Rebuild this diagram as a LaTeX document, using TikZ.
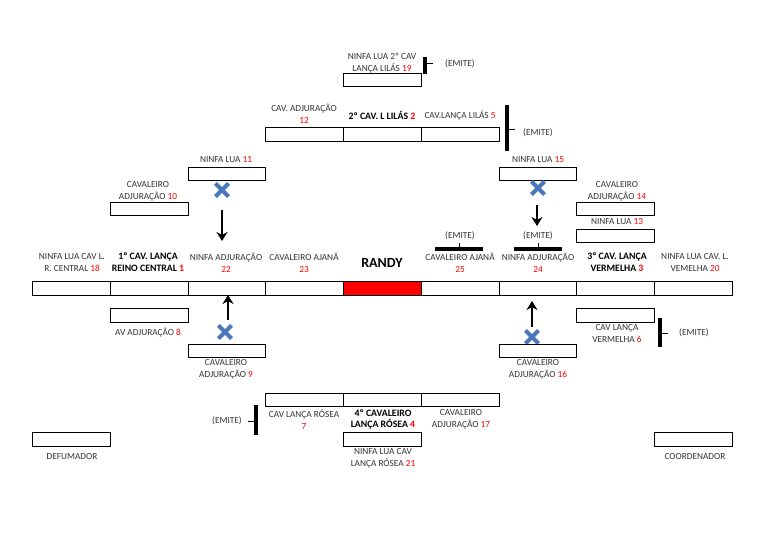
\documentclass[tikz,border=0pt]{standalone}
\usepackage{fontspec}
\setmainfont{Carlito}
\usepackage{tikz}
\usetikzlibrary{arrows.meta,shapes.misc}
\usepackage{xcolor}
\definecolor{Ink}{HTML}{333333}
\definecolor{NumRed}{HTML}{FF0000}
\definecolor{CrossBlue}{HTML}{4A78B8}
\newcommand{\rednum}[1]{\textcolor{NumRed}{#1}}

\begin{document}
\begin{tikzpicture}[x=1pt,y=-1pt,
  seat/.style={draw=black,line width=0.9pt,minimum width=77.75pt,minimum height=13.5pt,inner sep=0pt},
  lbl/.style={font=\fontsize{9.3}{11.8}\selectfont,text=Ink,align=center,inner sep=0pt},
  lead/.style={font=\bfseries\fontsize{9.8}{11.8}\selectfont,text=black,align=center,inner sep=0pt},
  cross/.style={cross out,draw=CrossBlue,line width=4.2pt,minimum size=9pt,inner sep=0pt},
  arrow/.style={-{Stealth[length=9pt,width=11pt]},line width=2.4pt,draw=black},
  bar/.style={line width=3.5pt,draw=black},
  tick/.style={line width=1pt,draw=black}
]
  \useasboundingbox (0,0) rectangle (768,543);

  % top: ninfa lua 19
  \node[lbl] (l19) at (382,63.5) {NINFA LUA 2º CAV\\LANÇA LILÁS \rednum{19}};
  \node[seat] (s19) at (382.5,80) {};
  \draw[bar] (425,57) -- (425,74);
  \draw[tick] (425,64) -- (433,64);
  \node[lbl] (e19) at (460,64) {(EMITE)};

  % second row: lilas
  \node[lbl] (l12) at (304,114) {CAV. ADJURAÇÃO\\\rednum{12}};
  \node[lead] (l2) at (382,115) {2º CAV. L LILÁS \rednum{2}};
  \node[lbl] (l5) at (460,115) {CAV.LANÇA LILÁS \rednum{5}};
  \node[seat] (s12) at (304.75,134.5) {};
  \node[seat] (s2) at (382.5,134.5) {};
  \node[seat] (s5) at (460.25,134.5) {};
  \draw[bar] (507,105) -- (507,151);
  \draw[tick] (507,129) -- (515,129);
  \node[lbl] (e5) at (538,133) {(EMITE)};

  % upper left
  \node[lbl] (l11) at (226,160) {NINFA LUA \rednum{11}};
  \node[seat] (s11) at (227,174) {};
  \node[cross] (x11) at (222,190) {};
  \node[lbl] (l10) at (148,191.5) {CAVALEIRO\\ADJURAÇÃO \rednum{10}};
  \node[seat] (s10) at (149.25,209) {};
  \coordinate (a11t) at (222,210);
  \coordinate (a11h) at (222,241);
  \draw[arrow] (a11t) -- (a11h);

  % upper right
  \node[lbl] (l15) at (538,160) {NINFA LUA \rednum{15}};
  \node[seat] (s15) at (538,174) {};
  \node[cross] (x15) at (538,188) {};
  \node[lbl] (l14) at (617,191.5) {CAVALEIRO\\ADJURAÇÃO \rednum{14}};
  \node[seat] (s14) at (615.75,209) {};
  \node[lbl] (l13) at (617,222) {NINFA LUA \rednum{13}};
  \node[seat] (s13) at (615.75,236) {};
  \coordinate (a15t) at (537,205);
  \coordinate (a15h) at (537,226);
  \draw[arrow] (a15t) -- (a15h);

  % emite over 25 and 24
  \node[lbl] (e25) at (460,236) {(EMITE)};
  \draw[bar] (435,249) -- (483,249);
  \draw[tick] (459,249) -- (459,243);
  \node[lbl] (e24) at (538,236) {(EMITE)};
  \draw[bar] (514,249) -- (562,249);
  \draw[tick] (538,249) -- (538,243);

  % main row labels
  \node[lbl] (l18) at (72,262.5) {NINFA LUA CAV L.\\R. CENTRAL \rednum{18}};
  \node[lead] (l1) at (148,262.5) {1º CAV. LANÇA\\REINO CENTRAL \rednum{1}};
  \node[lbl] (l22) at (226,262.5) {NINFA ADJURAÇÃO\\\rednum{22}};
  \node[lbl] (l23) at (304,262.5) {CAVALEIRO AJANÃ\\\rednum{23}};
  \node[lead,font=\bfseries\fontsize{14}{16}\selectfont] (lrandy) at (382,263) {RANDY};
  \node[lbl] (l25) at (460,262.5) {CAVALEIRO AJANÃ\\\rednum{25}};
  \node[lbl] (l24) at (538,262.5) {NINFA ADJURAÇÃO\\\rednum{24}};
  \node[lead] (l3) at (617,262.5) {3º CAV. LANÇA\\VERMELHA \rednum{3}};
  \node[lbl] (l20) at (695,262.5) {NINFA LUA CAV. L.\\VEMELHA \rednum{20}};

  % main row seats
  \node[seat] (s18) at (71.5,288.5) {};
  \node[seat] (s1) at (149.25,288.5) {};
  \node[seat] (s22) at (227,288.5) {};
  \node[seat] (s23) at (304.75,288.5) {};
  \node[seat,fill=red] (srandy) at (382.5,288.5) {};
  \node[seat] (s25) at (460.25,288.5) {};
  \node[seat] (s24) at (538,288.5) {};
  \node[seat] (s3) at (615.75,288.5) {};
  \node[seat] (s20) at (693.5,288.5) {};

  % lower left
  \node[seat] (s8) at (149.25,315.5) {};
  \node[lbl] (l8) at (148,333) {AV ADJURAÇÃO \rednum{8}};
  \coordinate (a9t) at (228,320);
  \coordinate (a9h) at (228,295);
  \draw[arrow] (a9t) -- (a9h);
  \node[cross] (x9) at (225,332) {};
  \node[seat] (s9) at (227,351) {};
  \node[lbl] (l9) at (226,369) {CAVALEIRO\\ADJURAÇÃO \rednum{9}};

  % lower right
  \node[seat] (s6) at (615.75,315.5) {};
  \node[lbl] (l6) at (617,333.5) {CAV LANÇA\\VERMELHA \rednum{6}};
  \draw[bar] (660,318) -- (660,347);
  \draw[tick] (660,333) -- (668,333);
  \node[lbl] (e6) at (694,333) {(EMITE)};
  \coordinate (a16t) at (532,327);
  \coordinate (a16h) at (532,301);
  \draw[arrow] (a16t) -- (a16h);
  \node[cross] (x16) at (532,337) {};
  \node[seat] (s16) at (538,351) {};
  \node[lbl] (l16) at (538,369) {CAVALEIRO\\ADJURAÇÃO \rednum{16}};

  % bottom: rosea
  \node[seat] (s7) at (304.75,400) {};
  \node[seat] (s4) at (382.5,400) {};
  \node[seat] (s17) at (460.25,400) {};
  \node[lbl] (l7) at (304,419.5) {CAV LANÇA RÓSEA\\\rednum{7}};
  \node[lead] (l4) at (383,419.5) {4º CAVALEIRO\\LANÇA RÓSEA \rednum{4}};
  \node[lbl] (l17) at (461,419.5) {CAVALEIRO\\ADJURAÇÃO \rednum{17}};
  \draw[bar] (256,405) -- (256,435);
  \draw[tick] (256,421) -- (248,421);
  \node[lbl] (e7) at (227,421) {(EMITE)};
  \node[seat] (s21) at (382.5,439.5) {};
  \node[lbl] (l21) at (383,458) {NINFA LUA CAV\\LANÇA RÓSEA \rednum{21}};

  % defumador and coordenador
  \node[seat] (sdef) at (71.5,439.5) {};
  \node[lbl] (ldef) at (72,457) {DEFUMADOR};
  \node[seat] (scoord) at (693.5,439.5) {};
  \node[lbl] (lcoord) at (695,457) {COORDENADOR};
\end{tikzpicture}
\end{document}
